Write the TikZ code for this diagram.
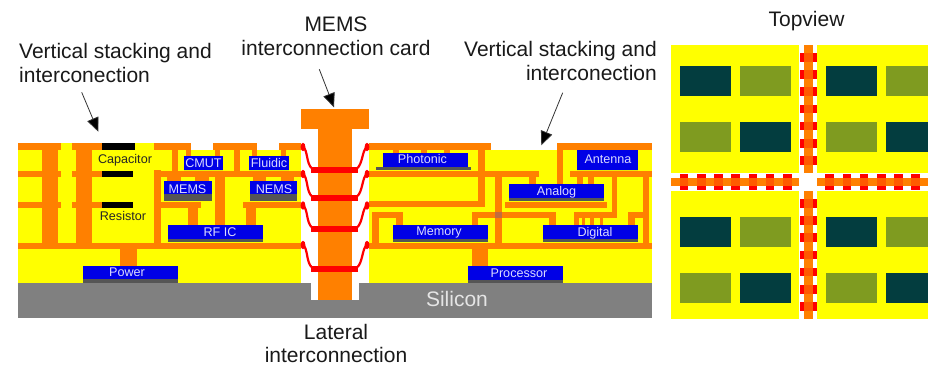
\documentclass[tikz,border=0pt]{standalone}
\usepackage{fontspec}
\setmainfont{Liberation Sans}
\usetikzlibrary{arrows.meta, positioning}

\definecolor{gelb}{HTML}{FFFF00}
\definecolor{metall}{HTML}{FF8000}
\definecolor{rot}{HTML}{FF0000}
\definecolor{silizium}{HTML}{808080}
\definecolor{chipblau}{HTML}{0000E6}
\definecolor{chipgrau}{HTML}{555555}
\definecolor{dunkel}{HTML}{033D3F}
\definecolor{oliv}{HTML}{7F9B20}
\definecolor{kreuzung}{HTML}{FF5A00}

\tikzset{
	metal/.style={fill=metall},
	schrift/.style={font=\fontsize{21pt}{24pt}\selectfont, text=black!90, inner sep=0pt, align=center},
	klein/.style={font=\fontsize{12.6pt}{15pt}\selectfont, text=black!85, inner sep=0pt, text height=0.72em, text depth=0.1em},
	chiptext/.style={klein, text=white!85!blue},
	pfeil/.style={line width=0.8pt, draw=black!80, -{Triangle[length=14pt, width=12pt, fill=black]}},
}

\begin{document}
\begin{tikzpicture}[x=1pt, y=-1pt]
	\useasboundingbox (0,0) rectangle (928,368);
	
	% Silizium (grau)
	\fill[silizium] (18,283) rectangle (652,317.5);
	\fill[white] (311,283) rectangle (359,300);
	\node[schrift, text=white!90!black, anchor=base] (silicon) at (457,306) {Silicon};
	
	% Fuellung (gelb)
	\fill[gelb] (18,150) rectangle (301,283);
	\fill[gelb] (369,150) rectangle (652,283);
	\fill[gelb] (61,143) rectangle (72,150);
	\fill[gelb] (135,143) rectangle (154,150);
	
	% Lagen links
	\foreach \xa/\xb in {18/61,72/102,154/191,213/257,279/301}
		\fill[metal] (\xa,143) rectangle (\xb,150);
	\foreach \xa/\xb in {18/61,72/102,154/301}
		\fill[metal] (\xa,170.5) rectangle (\xb,177);
	\foreach \xa/\xb in {18/61,72/102,154/201,243/301}
		\fill[metal] (\xa,202) rectangle (\xb,208);
	\fill[metal] (18,242.5) rectangle (301,249);
	
	% Durchkontakte links
	\foreach \xa/\xb/\ya/\yb in {41.5/58/143/243,75.5/92/143/243,154/160.5/170/243,
		172/178/150/171,234/240/150/171,186/191/150/157,215/220/150/157,252/257/150/157,281/286/150/157,
		167/181/177/182,195/209/177/182,253/266/177/182,281/294/177/182,
		188/198/207/226,215/225/177/226,246/256/207/226,120/137/249/267}
		\fill[metal] (\xa,\ya) rectangle (\xb,\yb);
	
	% Kondensator und Widerstand
	\fill[black] (102,143) rectangle (135,150);
	\fill[black] (102,170.5) rectangle (133,177);
	\fill[black] (102,202) rectangle (133,208);
	\node[klein] (capacitor) at (125,160) {Capacitor};
	\node[klein] (resistor) at (123,217) {Resistor};
	
	% Lagen rechts
	\fill[metal] (369,143) rectangle (491,150);
	\fill[metal] (557,143) rectangle (652,149.5);
	\fill[metal] (369,171) rectangle (539,177);
	\fill[metal] (570,171) rectangle (652,177);
	\fill[metal] (369,201) rectangle (485,207);
	\fill[metal] (505,202) rectangle (607,208);
	\fill[metal] (369,242.5) rectangle (652,249);
	\fill[metal] (372,212) rectangle (403,218);
	\fill[metal] (472,212) rectangle (556,218);
	\fill[metal] (574,212) rectangle (617,218);
	\fill[metal] (628,212) rectangle (649,218);
	
	% Durchkontakte rechts
	\foreach \xa/\xb/\ya/\yb in {393/399/150/154,421/427/150/154,444/450/150/154,
		478/485/143/207,557/563/143/185,529/536/177/185,577/583/177/185,588/594/177/185,
		612/617/177/213,643/649/177/243,495/502/177/243,
		372/379/212/243,396/403/212/226,472/478/212/226,549/556/212/226,
		574/579/212/226,582/585/212/226,590/594/212/226,600/603/212/226,628/635/212/226,
		472/488/249/267}
		\fill[metal] (\xa,\ya) rectangle (\xb,\yb);
	\fill[kreuzung!50!silizium] (495,212) rectangle (502,218);
	
	% Chips (blau)
	\foreach \xa/\xb/\ya/\yg/\yb/\lx/\ly/\nm/\txt in {
		82.5/177.5/266/279/283/127/273.3/power/Power,
		167.5/263/225/239/242/220/233/rfic/RF IC,
		183.5/223/156/170/170/203.5/164/cmut/CMUT,
		249/289/156/170/170/269/164/fluidic/Fluidic,
		164/212/181/194/201/187.5/190/mems/MEMS,
		250/297/181/194/201/274/190/nems/NEMS,
		383/468/153/167/167/422.5/160/photonic/Photonic,
		393/488/225/239/242/439/232.7/memory/Memory,
		468/563/266/280/283/519/274/processor/Processor,
		509/604/184/198/201/556.5/192/analog/Analog,
		543/638/225/239/242/595/233/digital/Digital,
		577/638/150/170/170/608/160/antenna/Antenna} {
		\fill[chipblau] (\xa,\ya) rectangle (\xb,\yg);
		\fill[chipgrau] (\xa,\yg) rectangle (\xb,\yb);
		\node[chiptext] (\nm) at (\lx,\ly) {\txt};
	}
	\fill[chipgrau] (376,167) rectangle (471,170);
	
	% Karte (T-Form)
	\fill[metal] (300.5,108.5) rectangle (369,129);
	\fill[metal] (318,129) rectangle (352,300);
	
	% Bruecken (rot)
	\foreach \ya/\yb in {147/169.5,174/197.5,205.5/228.5,245/268.5} {
		\fill[rot] (311,\yb-3) rectangle (358,\yb+3);
		\draw[rot, line width=2.2pt] (303,\ya) .. controls (308,\ya+3) and (306,\yb-6) .. (312,\yb-1);
		\draw[rot, line width=2.2pt] (367,\ya) .. controls (362,\ya+3) and (363,\yb-6) .. (357,\yb-1);
		\fill[rot] (303,\ya) ellipse (2.4 and 4.2);
		\fill[rot] (367,\ya) ellipse (2.4 and 4.2);
	}
	
	% Draufsicht
	\foreach \xa/\xb in {671/799.3,816.7/928}
		\foreach \ya/\yb in {44.7/173.3,190.7/319.3}
			\fill[gelb] (\xa,\ya) rectangle (\xb,\yb);
	\foreach \x/\fa/\fb in {679.7/dunkel/oliv,739.7/oliv/dunkel,825.7/dunkel/oliv,885.7/oliv/dunkel} {
		\pgfmathsetmacro{\xe}{min(\x+51.3,928)}
		\foreach \y in {66,216.7} {
			\fill[\fa] (\x,\y) rectangle (\xe,\y+30);
			\fill[\fb] (\x,\y+56) rectangle (\xe,\y+86);
		}
	}
	% Streifen mit Bruecken
	\fill[metal] (804,44.7) rectangle (812.7,173.3);
	\fill[metal] (804,190.7) rectangle (812.7,319.3);
	\fill[metal] (671,177.7) rectangle (799.3,186.3);
	\fill[metal] (816.7,177.7) rectangle (928,186.3);
	\foreach \n in {0,...,6} {
		\foreach \y in {57.3,203.3} {
			\fill[rot] (800,\y+17.2*\n-4.3) rectangle (804,\y+17.2*\n+4.3);
			\fill[rot] (812.7,\y+17.2*\n-4.3) rectangle (816.7,\y+17.2*\n+4.3);
			\fill[kreuzung] (804,\y+17.2*\n-4.3) rectangle (812.7,\y+17.2*\n+4.3);
		}
		\fill[rot] (684+17.2*\n-4.3,173.7) rectangle (684+17.2*\n+4.3,177.7);
		\fill[rot] (684+17.2*\n-4.3,186.3) rectangle (684+17.2*\n+4.3,190.3);
		\fill[kreuzung] (684+17.2*\n-4.3,177.7) rectangle (684+17.2*\n+4.3,186.3);
	}
	\foreach \n in {0,...,5} {
		\fill[rot] (829.7+17.2*\n-4.3,173.7) rectangle (829.7+17.2*\n+4.3,177.7);
		\fill[rot] (829.7+17.2*\n-4.3,186.3) rectangle (829.7+17.2*\n+4.3,190.3);
		\fill[kreuzung] (829.7+17.2*\n-4.3,177.7) rectangle (829.7+17.2*\n+4.3,186.3);
	}
	
	% Beschriftung
	\node[schrift, anchor=base] (topview) at (806.5,26.7) {Topview};
	\node[schrift, align=left, anchor=north west] (stapelLinks) at (19,43) {Vertical stacking and\\interconection};
	\node[schrift, anchor=north] (karte) at (336,16.5) {MEMS\\interconnection card};
	\node[schrift, align=right, anchor=north east] (stapelRechts) at (657,41.5) {Vertical stacking and\\interconection};
	\node[schrift, font=\fontsize{21pt}{23pt}\selectfont, anchor=north] (lateral) at (336,324.5) {Lateral\\interconnection};
	
	% Pfeile
	\coordinate (linksA) at (81.7,92.3);
	\coordinate (linksB) at (98.3,131.7);
	\coordinate (mitteA) at (319.3,69.3);
	\coordinate (mitteB) at (334,107.3);
	\coordinate (rechtsA) at (562.7,92.7);
	\coordinate (rechtsB) at (541.3,145.3);
	\draw[pfeil] (linksA) -- (linksB);
	\draw[pfeil] (mitteA) -- (mitteB);
	\draw[pfeil] (rechtsA) -- (rechtsB);
	
\end{tikzpicture}
\end{document}
